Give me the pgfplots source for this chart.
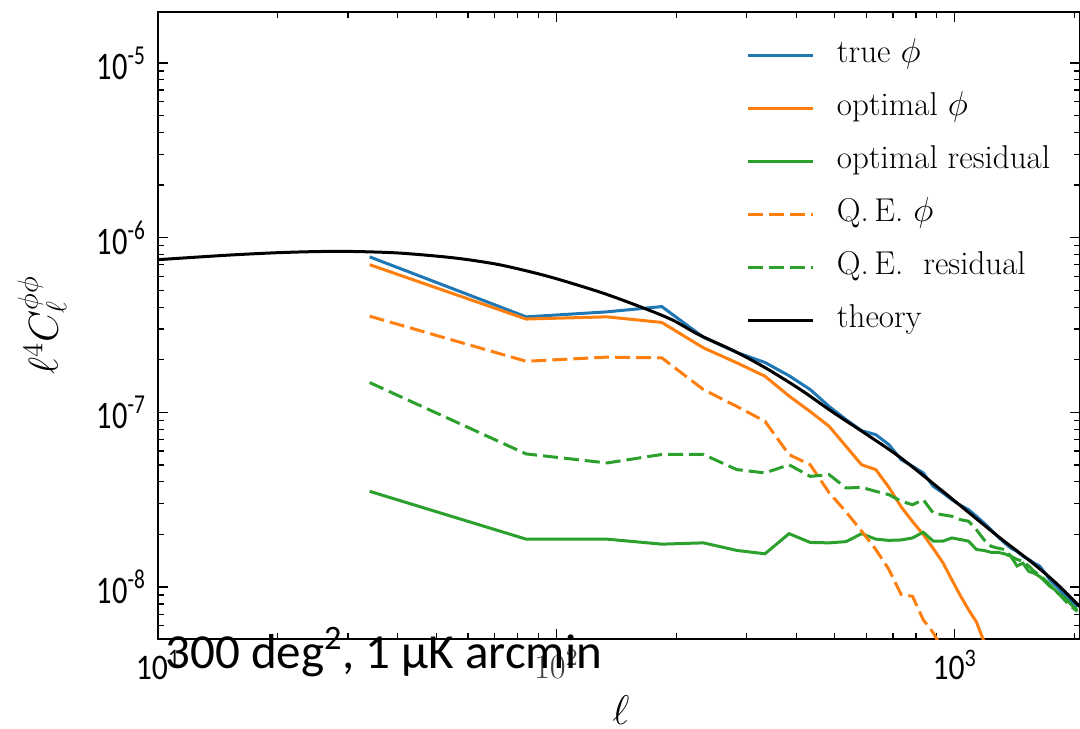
\documentclass[border=0pt]{standalone}
\usepackage{fontspec}
\usepackage{graphicx}
\usepackage{pgfplots}
\pgfplotsset{compat=1.18}
\newfontfamily\carl{Carlito}
\definecolor{mplblue}{RGB}{31,119,180}
\definecolor{mplorange}{RGB}{255,127,14}
\definecolor{mplgreen}{RGB}{44,160,44}
% tick labels in a narrow sans
\newcommand{\ytl}[1]{{\carl\fontsize{19.5}{20}\selectfont\scalebox{0.78}[1]{10\textsuperscript{#1}}}}
\newcommand{\xtl}[1]{{\carl\fontsize{18}{19}\selectfont\scalebox{0.88}[1]{10\textsuperscript{#1}}}}
\begin{document}
\begin{tikzpicture}
\begin{axis}[
  at={(0pt,0pt)}, anchor=south west,
  scale only axis, width=461pt, height=313.5pt,
  xmode=log, ymode=log,
  xmin=10, xmax=2064, ymin=5.04e-9, ymax=1.956e-5,
  xtick={10,100,1000},
  xticklabels={\xtl{1},{\fontsize{16.5}{17}\selectfont\color{black!75}$10^{2}$},\xtl{3}},
  ytick={1e-8,1e-7,1e-6,1e-5},
  yticklabels={\ytl{-8},\ytl{-7},\ytl{-6},\ytl{-5}},
  minor xtick={20,30,40,50,60,70,80,90,200,300,400,500,600,700,800,900,2000},
  minor ytick={6e-9,7e-9,8e-9,9e-9,2e-8,3e-8,4e-8,5e-8,6e-8,7e-8,8e-8,9e-8,2e-7,3e-7,4e-7,5e-7,6e-7,7e-7,8e-7,9e-7,2e-6,3e-6,4e-6,5e-6,6e-6,7e-6,8e-6,9e-6},
  tick align=inside, tick pos=both,
  major tick length=5pt, minor tick length=3pt,
  every tick/.style={black, line width=0.6pt},
  axis line style={line width=1pt},
  yticklabel style={inner sep=0pt, anchor=east, xshift=-6pt},
  xticklabel style={inner sep=0pt, anchor=north, yshift=-5.5pt},
  xlabel={$\ell$}, ylabel={$\ell^4 C_\ell^{\phi\phi}$},
  every axis x label/.style={at={(axis description cs:0.502,-0.1140)}, anchor=center, font=\fontsize{22}{24}\selectfont},
  every axis y label/.style={at={(axis description cs:-0.1258,0.5)}, rotate=90, anchor=center, font=\fontsize{22}{24}\selectfont},
  legend image code/.code={\draw[#1] (0pt,0pt) -- (32.5pt,0pt);},
  legend cell align=left,
  legend style={at={(axis description cs:0.6388,0.9545)}, anchor=north west,
    draw=none, fill=none, inner sep=0pt, outer sep=0pt,
    row sep=12pt, column sep=11pt,
    nodes={inner sep=0pt, text height=11pt, text depth=3.5pt},
    font=\fontsize{16.5}{18}\selectfont},
  every axis plot/.append style={line width=1.5pt},
  qe/.style={dash pattern=on 7.5pt off 3pt},
]
% true phi
\addplot[mplblue] coordinates {
(34,7.76e-7) (84,3.52e-7) (134,3.76e-7) (184,4.03e-7) (234,2.69e-7) (284,2.20e-7)
(334,1.93e-7) (384,1.62e-7) (434,1.35e-7) (484,1.08e-7) (534,9.08e-8) (584,7.85e-8)
(634,7.45e-8) (684,6.53e-8) (734,5.36e-8) (784,4.91e-8) (834,4.50e-8) (884,3.77e-8)
(934,3.46e-8) (984,3.16e-8) (1034,2.94e-8) (1084,2.77e-8) (1134,2.54e-8) (1184,2.33e-8)
(1234,2.13e-8) (1284,1.94e-8) (1334,1.79e-8) (1384,1.67e-8) (1434,1.60e-8) (1484,1.50e-8)
(1534,1.44e-8) (1584,1.37e-8) (1634,1.32e-8) (1684,1.21e-8) (1734,1.10e-8) (1784,1.03e-8)
(1834,9.66e-9) (1884,9.06e-9) (1934,8.55e-9) (1984,8.11e-9) (2034,7.69e-9)};
\addlegendentry{true $\phi$}
% optimal phi
\addplot[mplorange] coordinates {
(34,7.00e-7) (84,3.42e-7) (134,3.52e-7) (184,3.27e-7) (234,2.34e-7) (284,1.92e-7)
(334,1.61e-7) (384,1.24e-7) (434,1.01e-7) (484,8.32e-8) (534,6.38e-8) (584,5.01e-8)
(634,4.70e-8) (684,3.72e-8) (734,2.88e-8) (784,2.37e-8) (834,2.00e-8) (884,1.66e-8)
(934,1.38e-8) (984,1.10e-8) (1034,8.91e-9) (1084,7.41e-9) (1134,6.31e-9) (1184,4.90e-9)};
\addlegendentry{optimal $\phi$}
% optimal residual
\addplot[mplgreen] coordinates {
(34,3.53e-8) (84,1.88e-8) (134,1.88e-8) (184,1.76e-8) (234,1.79e-8) (284,1.62e-8)
(334,1.55e-8) (384,2.02e-8) (434,1.80e-8) (484,1.79e-8) (534,1.82e-8) (584,2.02e-8)
(634,1.88e-8) (684,1.85e-8) (734,1.86e-8) (784,1.91e-8) (834,2.06e-8) (884,1.83e-8)
(934,1.83e-8) (984,1.91e-8) (1034,1.87e-8) (1084,1.83e-8) (1134,1.64e-8) (1184,1.62e-8)
(1234,1.58e-8) (1284,1.58e-8) (1334,1.55e-8) (1384,1.50e-8) (1434,1.32e-8) (1484,1.37e-8)
(1534,1.23e-8) (1584,1.20e-8) (1634,1.15e-8) (1684,1.08e-8) (1734,1.01e-8) (1784,9.66e-9)
(1834,9.06e-9) (1884,8.71e-9) (1934,8.22e-9) (1984,7.76e-9) (2034,7.36e-9)};
\addlegendentry{optimal residual}
% quadratic estimator phi
\addplot[mplorange, qe] coordinates {
(34,3.55e-7) (84,1.96e-7) (134,2.07e-7) (184,2.05e-7) (234,1.35e-7) (284,1.08e-7)
(334,8.89e-8) (384,5.73e-8) (434,5.01e-8) (484,3.47e-8) (534,2.69e-8) (584,2.09e-8)
(634,1.64e-8) (684,1.26e-8) (734,9.06e-9) (784,8.85e-9) (834,6.50e-9) (884,5.46e-9)
(934,4.37e-9)};
\addlegendentry{Q.\,E.\ $\phi$}
% quadratic estimator residual
\addplot[mplgreen, qe] coordinates {
(34,1.48e-7) (84,5.78e-8) (134,5.13e-8) (184,5.74e-8) (234,5.74e-8) (284,4.70e-8)
(334,4.50e-8) (384,5.01e-8) (434,4.30e-8) (484,4.40e-8) (534,3.69e-8) (584,3.72e-8)
(634,3.53e-8) (684,3.38e-8) (734,3.10e-8) (784,2.96e-8) (834,3.16e-8) (884,2.65e-8)
(934,2.59e-8) (984,2.54e-8) (1034,2.43e-8) (1084,2.38e-8) (1134,2.13e-8) (1184,1.87e-8)
(1234,1.71e-8) (1284,1.67e-8) (1334,1.64e-8) (1384,1.50e-8) (1434,1.44e-8) (1484,1.40e-8)
(1534,1.32e-8) (1584,1.23e-8) (1634,1.17e-8) (1684,1.10e-8) (1734,1.03e-8) (1784,9.66e-9)
(1834,9.06e-9) (1884,8.47e-9) (1934,7.94e-9) (1984,7.59e-9) (2034,7.26e-9)};
\addlegendentry{Q.\,E.\ \ residual}
% theory curve
\addplot[black, smooth] coordinates {
(10,7.48e-7) (15,7.94e-7) (20,8.20e-7) (25,8.32e-7) (30,8.34e-7) (40,8.17e-7)
(55,7.67e-7) (70,7.08e-7) (84,6.46e-7) (100,5.82e-7) (130,4.84e-7) (162,4.03e-7)
(195,3.39e-7) (228,2.78e-7) (280,2.24e-7) (336,1.79e-7) (410,1.35e-7) (492,1.01e-7)
(600,7.50e-8) (724,5.60e-8) (880,3.94e-8) (1064,2.77e-8) (1300,1.91e-8) (1565,1.38e-8)
(1800,1.05e-8) (2064,7.70e-9)};
\addlegendentry{theory}
\end{axis}
\node[anchor=base west, inner sep=0pt, font=\carl\fontsize{24.5}{26}\selectfont]
  at (3.5pt,-14.5pt) {300 deg\textsuperscript{2}, 1 µK arcmin};
\pgfresetboundingbox
\useasboundingbox (-79pt,-44.5pt) rectangle (461pt,319.5pt);
\end{tikzpicture}
\end{document}
